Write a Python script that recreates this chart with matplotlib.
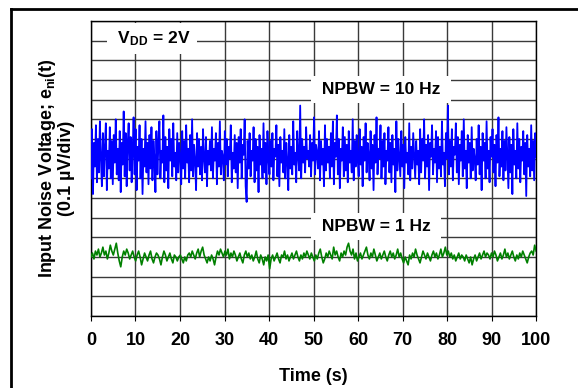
import numpy as np
import matplotlib.pyplot as plt
from matplotlib.lines import Line2D

# Input noise voltage traces, units of 0.01 uV (one grid division = 10 units)
noise_10hz = [
    70, 95, 62, 88, 76, 97, 68, 90, 73, 99, 80, 66, 93, 71, 86, 98, 64, 84, 75, 96, 70, 89, 67, 92, 78, 100, 72, 85, 69, 94,
    63, 88, 77, 104, 71, 93, 66, 87, 98, 74, 91, 68, 83, 101, 72, 95, 64, 86, 79, 97, 70, 90, 62, 85, 76, 99, 73, 88, 67, 92,
    75, 96, 69, 89, 80, 63, 94, 72, 87, 99, 70, 84, 78, 102, 68, 91, 74, 86, 65, 95, 79, 90, 71, 98, 76, 83, 69, 93, 73, 88,
    81, 67, 94, 75, 89, 70, 97, 78, 85, 68, 92, 74, 100, 71, 87, 79, 64, 93, 76, 90, 72, 86, 69, 95, 80, 73, 91, 66, 84, 77,
    89, 74, 96, 70, 85, 79, 93, 67, 88, 76, 99, 72, 84, 81, 69, 94, 77, 90, 71, 86, 80, 97, 68, 83, 75, 92, 73, 88, 65, 91,
    78, 95, 70, 87, 82, 100, 66, 58, 89, 75, 93, 71, 84, 79, 96, 68, 90, 74, 86, 63, 92, 77, 85, 70, 98, 73, 88, 67, 94, 80,
    72, 89, 76, 93, 69, 85, 81, 97, 71, 87, 66, 91, 78, 84, 73, 95, 70, 88, 79, 64, 92, 75, 86, 72, 99, 77, 83, 68, 94, 81,
    74, 107, 70, 90, 78, 86, 73, 96, 80, 84, 76, 92, 71, 88, 79, 101, 72, 87, 83, 75, 94, 69, 89, 77, 85, 66, 97, 74, 90, 78,
    86, 70, 93, 76, 99, 67, 88, 81, 102, 72, 90, 65, 85, 79, 96, 71, 91, 74, 87, 68, 94, 78, 84, 73, 100, 69, 89, 76, 92, 80,
    71, 95, 77, 86, 66, 91, 79, 98, 73, 88, 82, 69, 94, 75, 87, 64, 92, 78, 101, 72, 85, 80, 97, 70, 89, 76, 93, 67, 84, 79,
    96, 73, 88, 68, 92, 77, 85, 63, 99, 74, 90, 80, 71, 94, 76, 87, 65, 91, 78, 83, 72, 98, 69, 86, 75, 93, 81, 70, 89, 77,
    84, 67, 95, 73, 90, 79, 100, 70, 87, 76, 92, 64, 88, 81, 97, 72, 85, 78, 94, 68, 91, 75, 86, 71, 99, 77, 83, 66, 93, 80,
    107, 72, 89, 76, 95, 69, 86, 82, 98, 73, 91, 67, 87, 79, 94, 71, 100, 75, 84, 65, 92, 78, 88, 70, 96, 74, 85, 80, 69, 90,
    77, 97, 72, 86, 64, 93, 79, 88, 70, 99, 75, 84, 68, 91, 81, 95, 73, 87, 66, 92, 78, 101, 71, 85, 76, 94, 69, 89, 74, 96,
    80, 65, 91, 73, 87, 62, 95, 77, 84, 70, 98, 75, 90, 68, 86, 79, 94, 72, 88, 61, 92, 76, 85, 71, 97, 74, 89, 69, 93, 81,
]

noise_1hz = [
    30, 32, 29, 33, 31, 34, 30, 32, 35, 31, 33, 29, 32, 36, 33, 31, 34, 37, 32, 28, 25, 30, 33, 31, 34, 32, 29, 31, 33, 30,
    28, 31, 33, 30, 26, 29, 32, 30, 28, 31, 33, 29, 27, 30, 32, 31, 29, 26, 30, 33, 31, 28, 30, 32, 29, 27, 31, 30, 28, 30,
    31, 29, 27, 30, 28, 31, 32, 30, 33, 31, 29, 32, 34, 30, 33, 35, 31, 29, 27, 30, 28, 31, 29, 26, 30, 33, 31, 34, 32, 30,
    33, 31, 34, 29, 32, 30, 33, 31, 28, 30, 32, 29, 27, 31, 33, 30, 32, 29, 31, 28, 30, 33, 29, 27, 31, 29, 26, 30, 28, 31,
    24, 29, 31, 28, 30, 32, 29, 27, 31, 30, 33, 29, 31, 28, 30, 32, 29, 31, 33, 30, 28, 31, 29, 32, 30, 33, 31, 29, 32, 30,
    28, 31, 29, 32, 34, 30, 27, 29, 32, 30, 33, 31, 29, 35, 31, 33, 30, 28, 32, 30, 33, 31, 35, 37, 33, 31, 34, 29, 32, 28,
    30, 32, 29, 31, 33, 35, 31, 29, 32, 30, 34, 31, 28, 30, 32, 29, 31, 33, 30, 28, 31, 33, 30, 32, 29, 31, 34, 30, 32, 29,
    27, 30, 28, 26, 31, 29, 32, 30, 34, 31, 29, 27, 30, 33, 31, 29, 32, 30, 28, 31, 33, 30, 32, 29, 31, 34, 30, 32, 35, 31,
    33, 30, 32, 29, 31, 28, 30, 32, 29, 31, 30, 28, 31, 29, 27, 30, 26, 29, 31, 28, 30, 32, 29, 31, 33, 30, 32, 31, 29, 32,
    30, 33, 31, 28, 30, 32, 29, 31, 34, 30, 32, 29, 31, 33, 30, 28, 31, 29, 32, 30, 33, 31, 29, 27, 30, 32, 33, 31, 36, 33,
]

t_10hz = np.linspace(0, 100, len(noise_10hz))
t_1hz = np.linspace(0, 100, len(noise_1hz))

x_ticks = list(range(0, 101, 10))
y_grid = list(range(0, 151, 10))

plt.rcParams['font.family'] = ['Liberation Sans', 'DejaVu Sans']
plt.rcParams['font.weight'] = 'bold'
plt.rcParams['mathtext.default'] = 'regular'

fig = plt.figure(figsize=(5.78, 3.88), dpi=100)
ax = fig.add_axes([0.1574, 0.1856, 0.7702, 0.7603])

ax.plot(t_10hz, noise_10hz, color='#0000ff', lw=1.3, zorder=3)
ax.plot(t_1hz, noise_1hz, color='#008000', lw=1.2, zorder=3)

ax.set_xlim(0, 100)
ax.set_ylim(0, 150)
ax.set_xticks(x_ticks)
ax.set_yticks(y_grid)
ax.set_yticklabels([])
ax.tick_params(axis='y', length=0)
ax.tick_params(axis='x', direction='out', length=3.5, width=0.8, pad=8, labelsize=13)
for lbl in ax.get_xticklabels():
    lbl.set_fontweight('bold')
ax.grid(True, color='#3a3a3a', lw=1.0)
ax.set_axisbelow(True)
for sp in ax.spines.values():
    sp.set_color('black')
    sp.set_linewidth(1.0)

ax.set_xlabel('Time (s)', fontsize=13, fontweight='bold', labelpad=14)
ax.text(-0.078, 0.5, 'Input Noise Voltage; e$_{ni}$(t)\n(0.1 µV/div)',
        transform=ax.transAxes, rotation=90, ha='center', va='center',
        multialignment='center', fontsize=13, fontweight='bold', linespacing=1.0)

box = dict(boxstyle='square,pad=0.35', facecolor='white', edgecolor='none')
ax.text(13.7, 141, ' V$_{DD}$ = 2V ', ha='center', va='center', fontsize=12.5,
        fontweight='bold', bbox=box, zorder=4)
ax.text(65.2, 115, ' NPBW = 10 Hz ', ha='center', va='center', fontsize=12.5,
        fontweight='bold', bbox=box, zorder=4)
ax.text(64.0, 45.4, ' NPBW = 1 Hz ', ha='center', va='center', fontsize=12.5,
        fontweight='bold', bbox=box, zorder=4)

# outer frame (top and left edges visible in the reference)
W, H = 578, 388
fig.add_artist(Line2D([10.5 / W, 10.5 / W], [0, 1 - 9 / H], color='black', lw=2.0,
                      transform=fig.transFigure))
fig.add_artist(Line2D([10.5 / W, 1], [1 - 9 / H, 1 - 9 / H], color='black', lw=2.0,
                      transform=fig.transFigure))

fig.savefig('out.png', dpi=100)
